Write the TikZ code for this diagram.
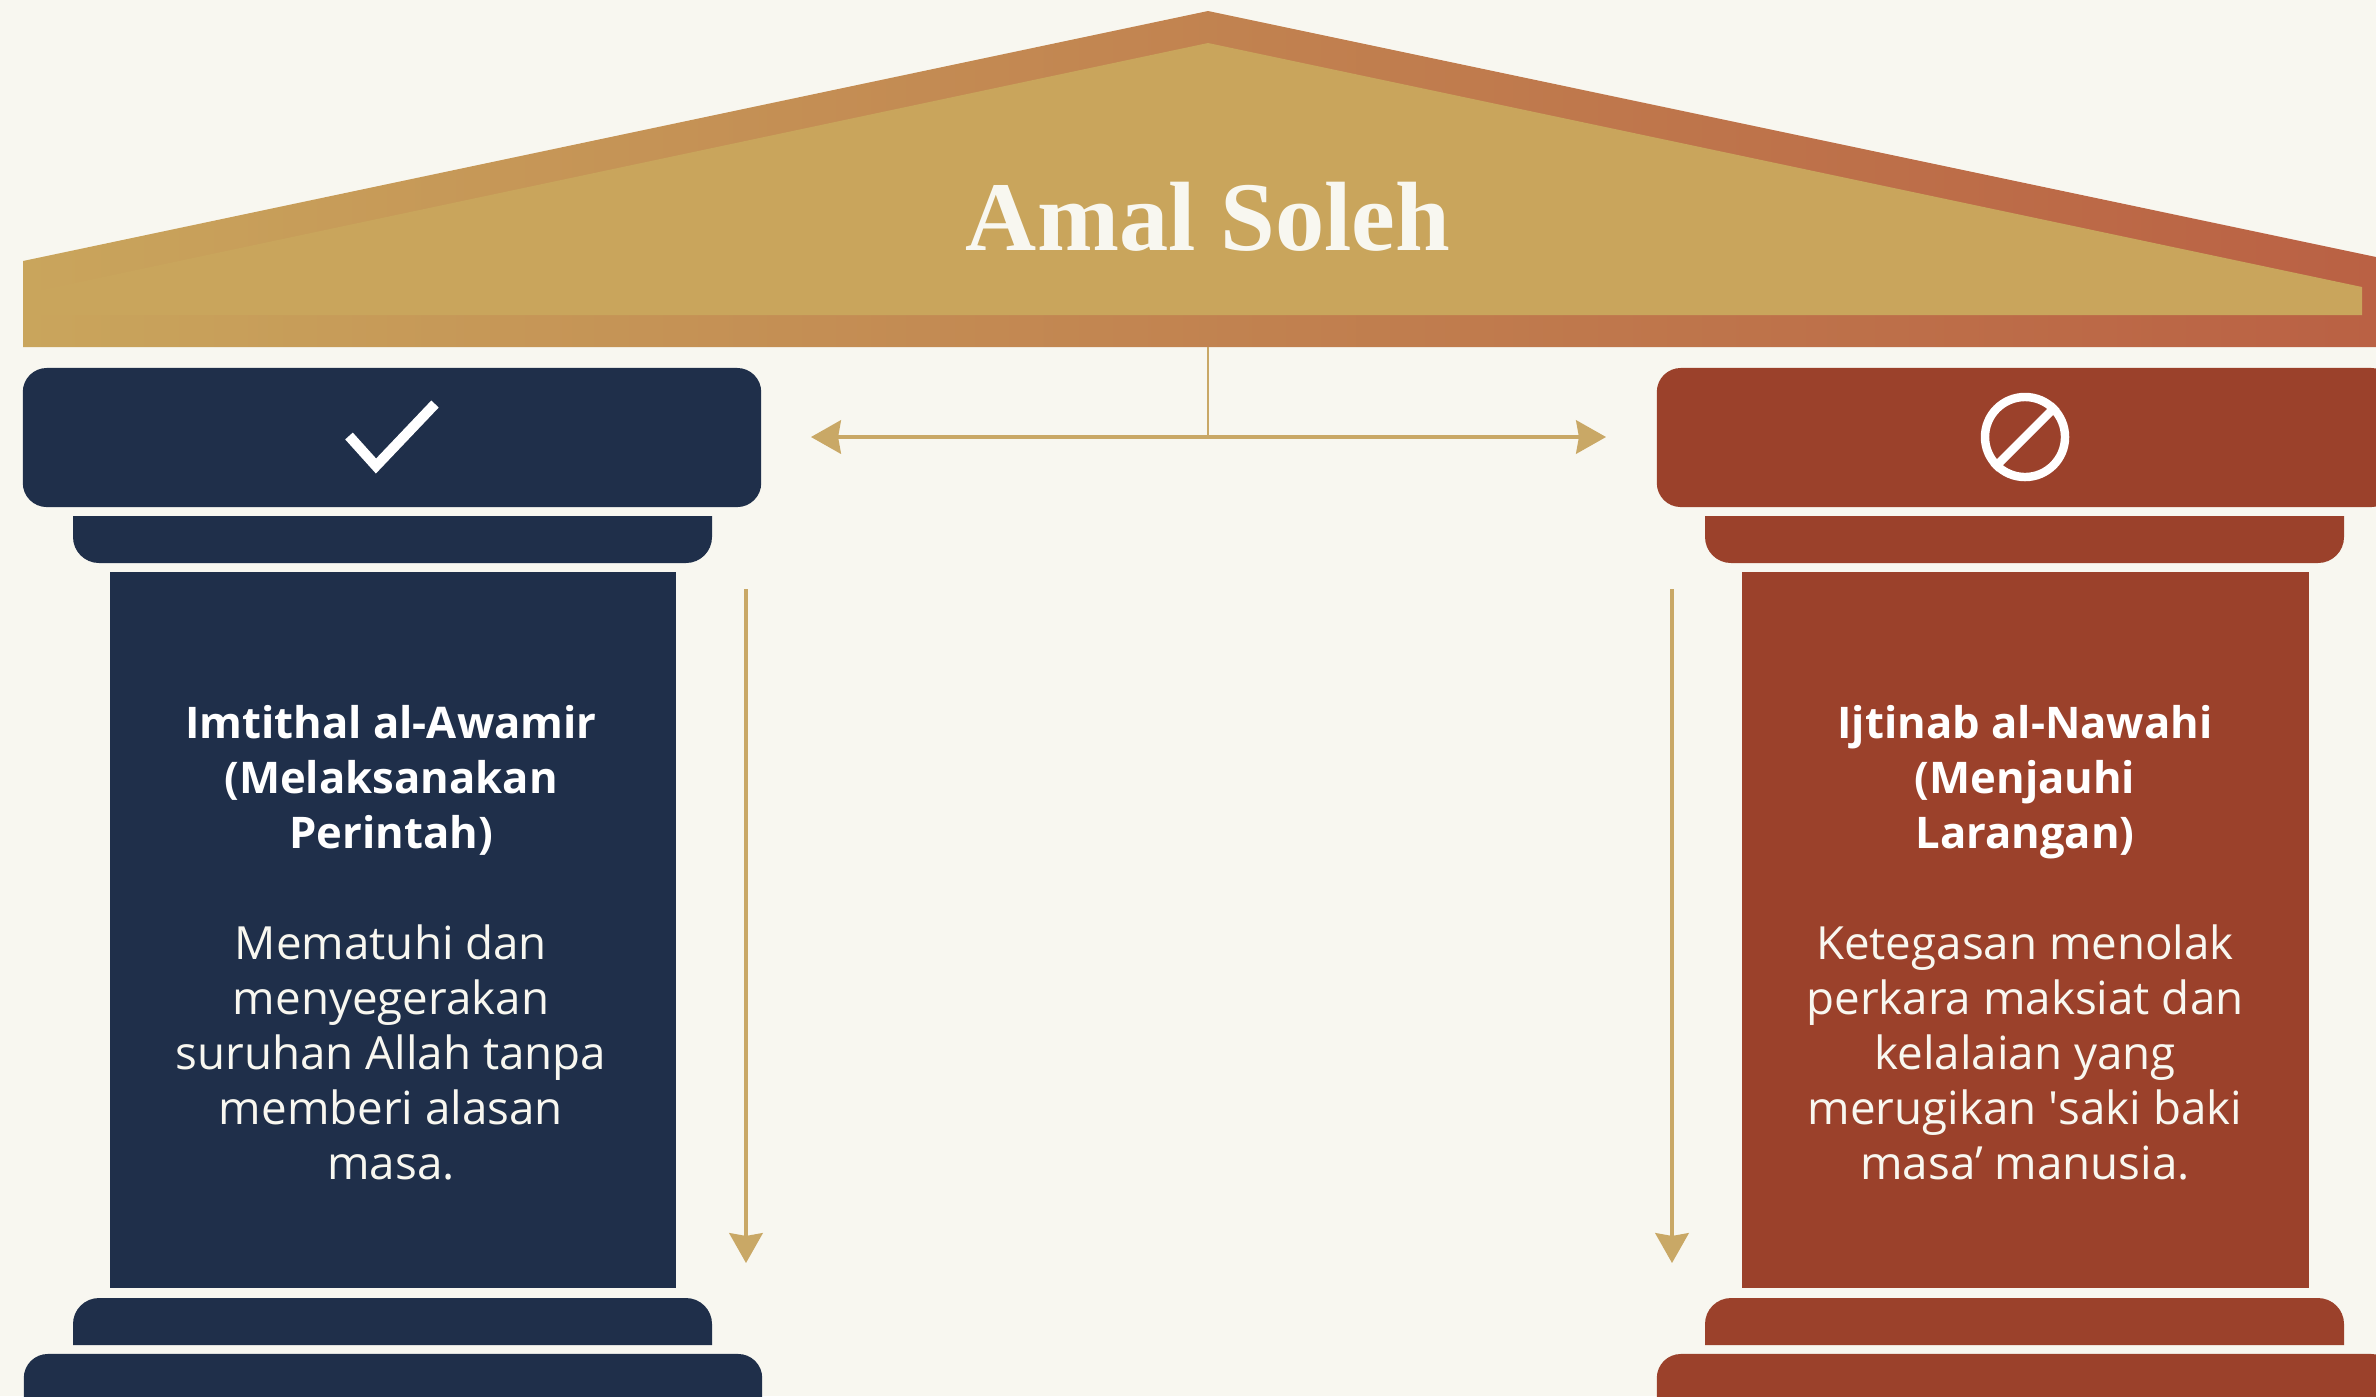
\documentclass[tikz,border=0pt]{standalone}
\usepackage{fontspec}
\setmainfont{Open Sans}
\newfontfamily\titlefont{Liberation Serif}
\usetikzlibrary{positioning,calc,arrows.meta}
\definecolor{paper}{HTML}{F8F7F0}
\definecolor{navy}{HTML}{1F2F4A}
\definecolor{rust}{HTML}{9B412B}
\definecolor{gold}{HTML}{C9A55C}
\definecolor{brass}{HTML}{C9A866}
\definecolor{roofmid}{HTML}{C5804F}
\definecolor{roofend}{HTML}{BA6144}
\tikzstyle{slab} = [ rectangle, rounded corners = 0.24cm, inner sep = 0pt, outer sep = 0pt, minimum width = 7.38cm, minimum height = 1.39cm]
\tikzstyle{heading} = [ align = center, text = white, inner sep = 0pt, font = \fontsize{12.4}{15.65}\selectfont\bfseries]
\tikzstyle{body} = [ align = center, text = paper, inner sep = 0pt, font = \fontsize{13}{15.65}\selectfont]
\tikzstyle{edge} = [ brass, line width = 1pt, -{Stealth[length=8.5pt,width=9.5pt,inset=0.8pt]}]
\tikzstyle{icon} = [ white, line width = 2.4pt]

\begin{document}
\begin{tikzpicture}[x=0.01cm, y=-0.01cm]
	\useasboundingbox (0,0) rectangle (2376,1396);
	\clip (0,0) rectangle (2376,1396);
	\fill[paper] (0,0) rectangle (2376,1396);

	% roof
	\path[left color=gold, middle color=roofmid, right color=roofend] (23,261) -- (1208,11) -- (2376,257) -- (2376,347) -- (23,347) -- cycle;
	\fill[gold] (23,294) -- (1208,43) -- (2362,287) -- (2362,315) -- (23,315) -- cycle;
	\node[text=paper, inner sep=0pt, font=\titlefont\fontsize{28}{30}\selectfont\bfseries] (title) at (1208,217) {Amal Soleh};

	% left pillar
	\node[slab, fill=navy] (capl) at (392,437.5) {};
	\fill[navy] (73,516) -- (712,516) [rounded corners=0.26cm] -- (712,563) -- (73,563) [sharp corners] -- cycle;
	\node[rectangle, fill=navy, inner sep=0pt, minimum width=5.66cm, minimum height=7.16cm] (shaftl) at (393,930) {};
	\fill[navy] (73,1345) -- (712,1345) [rounded corners=0.26cm] -- (712,1298) -- (73,1298) [sharp corners] -- cycle;
	\node[slab, fill=navy] (basel) at (393,1423.5) {};

	% right pillar
	\node[slab, fill=rust] (capr) at (2026,437.5) {};
	\fill[rust] (1705,516) -- (2344,516) [rounded corners=0.26cm] -- (2344,563) -- (1705,563) [sharp corners] -- cycle;
	\node[rectangle, fill=rust, inner sep=0pt, minimum width=5.66cm, minimum height=7.16cm] (shaftr) at (2025.5,930) {};
	\fill[rust] (1705,1345) -- (2344,1345) [rounded corners=0.26cm] -- (2344,1298) -- (1705,1298) [sharp corners] -- cycle;
	\node[slab, fill=rust] (baser) at (2026,1423.5) {};

	% icons
	\draw[icon, line width=2.9pt] (349,436) -- (376,466) -- (435,404);
	\node[circle, draw=white, line width=2.4pt, inner sep=0pt, minimum size=0.8cm] (forbid) at (2025,437) {};
	\draw[icon] (forbid.225) -- (forbid.45);

	% texts
	\node[heading] (headl) at (391,780) {Imtithal al-Awamir\\(Melaksanakan\\Perintah)};
	\node[body] (bodyl) at (391,1052) {Mematuhi dan\\menyegerakan\\suruhan Allah tanpa\\memberi alasan\\masa.};
	\node[heading] (headr) at (2025,782) {Ijtinab al-Nawahi\\(Menjauhi\\Larangan)};
	\node[body] (bodyr) at (2025,1052) {Ketegasan menolak\\perkara maksiat dan\\kelalaian yang\\merugikan \textquotesingle saki baki\\masa’ manusia.};

	% connectors
	\coordinate (roofbase) at (1208,347);
	\coordinate (hub) at (1208,437);
	\coordinate (tipl) at (811,437);
	\coordinate (tipr) at (1606,437);
	\coordinate (topl) at (746,589);
	\coordinate (endl) at (746,1263);
	\coordinate (topr) at (1672,589);
	\coordinate (endr) at (1672,1263);

	\draw[brass, line width=0.7pt] (roofbase) -- (hub);
	\draw[edge] (hub) -- (tipl);
	\draw[edge] (hub) -- (tipr);
	\draw[edge] (topl) -- (endl);
	\draw[edge] (topr) -- (endr);
\end{tikzpicture}
\end{document}
